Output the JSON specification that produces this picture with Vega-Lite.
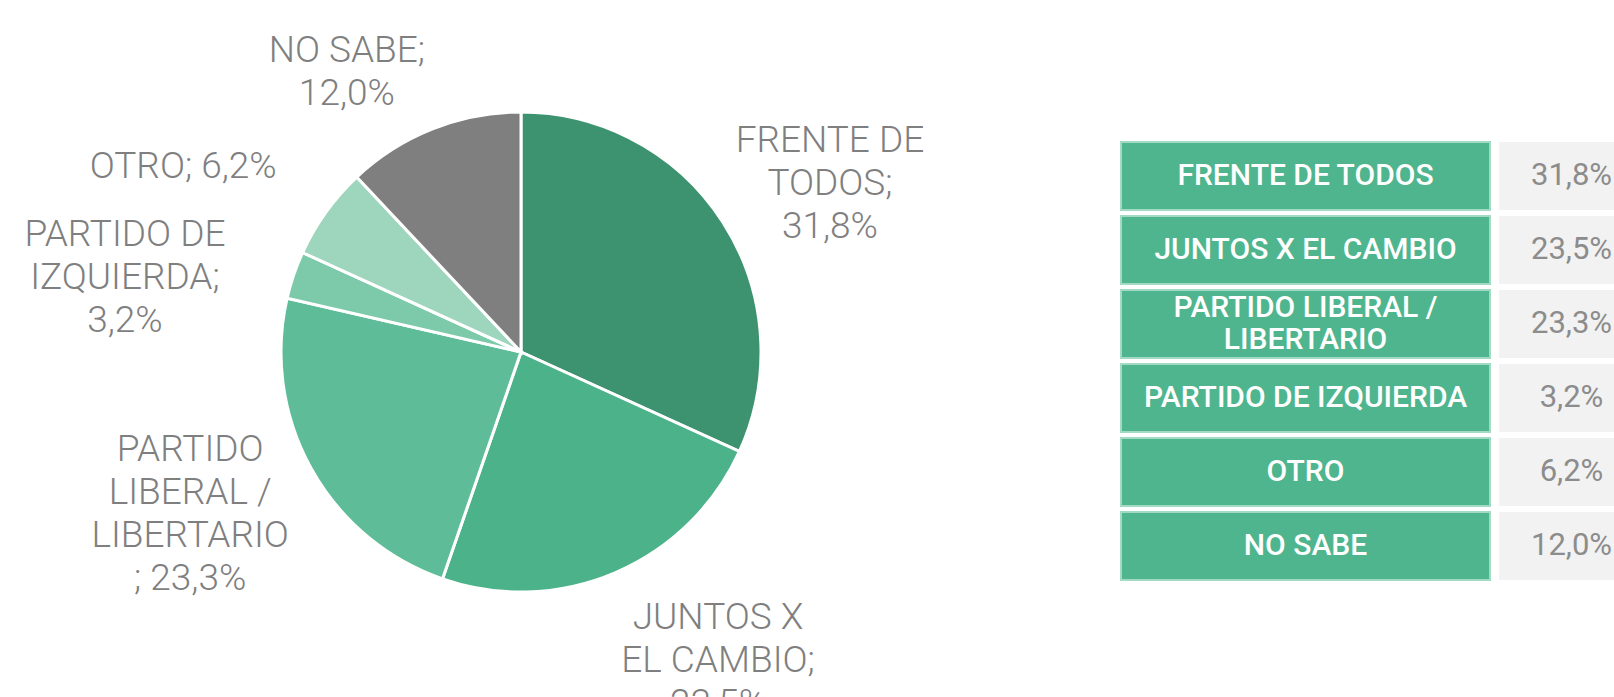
{
  "$schema": "https://vega.github.io/schema/vega-lite/v6.json",
  "padding": {"top": 7, "left": 0, "right": 0, "bottom": 0},
  "background": "white",
  "config": {"view": {"stroke": null}, "font": "Roboto"},
  "datasets": {
    "votos": [
      {"partido": "FRENTE DE TODOS", "etiqueta": "FRENTE DE\nTODOS;\n31,8%", "tabla": "FRENTE DE TODOS", "valor": 31.8, "texto": "31,8%", "orden": 1},
      {"partido": "JUNTOS X EL CAMBIO", "etiqueta": "JUNTOS X\nEL CAMBIO;\n23,5%", "tabla": "JUNTOS X EL CAMBIO", "valor": 23.5, "texto": "23,5%", "orden": 2},
      {"partido": "PARTIDO LIBERAL / LIBERTARIO", "etiqueta": "PARTIDO\nLIBERAL /\nLIBERTARIO\n; 23,3%", "tabla": "PARTIDO LIBERAL /\nLIBERTARIO", "valor": 23.3, "texto": "23,3%", "orden": 3},
      {"partido": "PARTIDO DE IZQUIERDA", "etiqueta": "PARTIDO DE\nIZQUIERDA;\n3,2%", "tabla": "PARTIDO DE IZQUIERDA", "valor": 3.2, "texto": "3,2%", "orden": 4},
      {"partido": "OTRO", "etiqueta": "OTRO; 6,2%", "tabla": "OTRO", "valor": 6.2, "texto": "6,2%", "orden": 5},
      {"partido": "NO SABE", "etiqueta": "NO SABE;\n12,0%", "tabla": "NO SABE", "valor": 12.0, "texto": "12,0%", "orden": 6}
    ]
  },
  "spacing": 78,
  "hconcat": [
    {
      "width": 1042,
      "height": 690,
      "data": {"name": "votos"},
      "transform": [
        {"stack": "valor", "groupby": [], "sort": [{"field": "orden", "order": "ascending"}], "as": ["v0", "v1"]}
      ],
      "resolve": {"scale": {"theta": "shared"}},
      "layer": [
        {
          "mark": {"type": "arc", "outerRadius": 240, "stroke": "white", "strokeWidth": 3},
          "encoding": {
            "theta": {"field": "v0", "type": "quantitative", "scale": {"domain": [0, 100], "nice": false}},
            "theta2": {"field": "v1"},
            "color": {
              "field": "partido", "type": "nominal", "legend": null,
              "scale": {
                "domain": ["FRENTE DE TODOS", "JUNTOS X EL CAMBIO", "PARTIDO LIBERAL / LIBERTARIO", "PARTIDO DE IZQUIERDA", "OTRO", "NO SABE"],
                "range": ["#3d9270", "#4bb28a", "#5ebd98", "#7ccaa9", "#9dd5bd", "#7f7f7f"]
              }
            }
          }
        },
        {
          "transform": [{"filter": "datum.orden == 1"}],
          "mark": {"type": "text", "radius": 374, "thetaOffset": 0.972, "lineBreak": "\n", "fontSize": 37, "fontWeight": 300, "lineHeight": 43, "color": "#7f7f7f", "align": "center", "baseline": "middle"},
          "encoding": {"theta": {"field": "v0", "type": "quantitative"}, "text": {"field": "etiqueta", "type": "nominal"}}
        },
        {
          "transform": [{"filter": "datum.orden == 2"}],
          "mark": {"type": "text", "radius": 331, "thetaOffset": 0.506, "lineBreak": "\n", "fontSize": 37, "fontWeight": 300, "lineHeight": 43, "color": "#7f7f7f", "align": "center", "baseline": "middle"},
          "encoding": {"theta": {"field": "v0", "type": "quantitative"}, "text": {"field": "etiqueta", "type": "nominal"}}
        },
        {
          "transform": [{"filter": "datum.orden == 3"}],
          "mark": {"type": "text", "radius": 345, "thetaOffset": 0.95, "lineBreak": "\n", "fontSize": 37, "fontWeight": 300, "lineHeight": 43, "color": "#7f7f7f", "align": "center", "baseline": "middle"},
          "encoding": {"theta": {"field": "v0", "type": "quantitative"}, "text": {"field": "etiqueta", "type": "nominal"}}
        },
        {
          "transform": [{"filter": "datum.orden == 4"}],
          "mark": {"type": "text", "radius": 413, "thetaOffset": 0.061, "lineBreak": "\n", "fontSize": 37, "fontWeight": 300, "lineHeight": 43, "color": "#7f7f7f", "align": "center", "baseline": "middle"},
          "encoding": {"theta": {"field": "v0", "type": "quantitative"}, "text": {"field": "etiqueta", "type": "nominal"}}
        },
        {
          "transform": [{"filter": "datum.orden == 5"}],
          "mark": {"type": "text", "radius": 385, "thetaOffset": 0.073, "lineBreak": "\n", "fontSize": 37, "fontWeight": 300, "lineHeight": 43, "color": "#7f7f7f", "align": "center", "baseline": "middle"},
          "encoding": {"theta": {"field": "v0", "type": "quantitative"}, "text": {"field": "etiqueta", "type": "nominal"}}
        },
        {
          "transform": [{"filter": "datum.orden == 6"}],
          "mark": {"type": "text", "radius": 348, "thetaOffset": 0.23, "lineBreak": "\n", "fontSize": 37, "fontWeight": 300, "lineHeight": 43, "color": "#7f7f7f", "align": "center", "baseline": "middle"},
          "encoding": {"theta": {"field": "v0", "type": "quantitative"}, "text": {"field": "etiqueta", "type": "nominal"}}
        }
      ]
    },
    {
      "spacing": 8,
      "hconcat": [
        {
          "width": 369,
          "height": 586,
          "data": {"name": "votos"},
          "encoding": {
            "y": {
              "field": "partido", "type": "nominal", "axis": null,
              "sort": {"field": "orden", "op": "min"},
              "scale": {"paddingInner": 0.08, "paddingOuter": 1, "align": 0.912}
            }
          },
          "layer": [
            {"mark": {"type": "rect", "fill": "#4fb58e", "stroke": "#a3dac3", "strokeWidth": 2}},
            {"transform": [{"filter": "datum.orden != 3"}],
             "mark": {"type": "text", "fontSize": 30, "fontWeight": 500, "color": "white", "align": "center", "baseline": "middle"},
             "encoding": {"text": {"field": "tabla", "type": "nominal"}}},
            {"transform": [{"filter": "datum.orden == 3"}],
             "mark": {"type": "text", "lineBreak": "\n", "fontSize": 30, "fontWeight": 500, "lineHeight": 32, "color": "white", "align": "center", "baseline": "middle", "dy": -16},
             "encoding": {"text": {"field": "tabla", "type": "nominal"}}}
          ]
        },
        {
          "width": 117,
          "height": 586,
          "data": {"name": "votos"},
          "encoding": {
            "y": {
              "field": "partido", "type": "nominal", "axis": null,
              "sort": {"field": "orden", "op": "min"},
              "scale": {"paddingInner": 0.08, "paddingOuter": 1, "align": 0.912}
            }
          },
          "layer": [
            {"mark": {"type": "rect", "fill": "#f2f2f2"}},
            {"mark": {"type": "text", "fontSize": 31, "fontWeight": 400, "color": "#8c8c8c", "align": "center", "baseline": "middle", "dx": 14},
             "encoding": {"text": {"field": "texto", "type": "nominal"}}}
          ]
        }
      ]
    }
  ]
}
